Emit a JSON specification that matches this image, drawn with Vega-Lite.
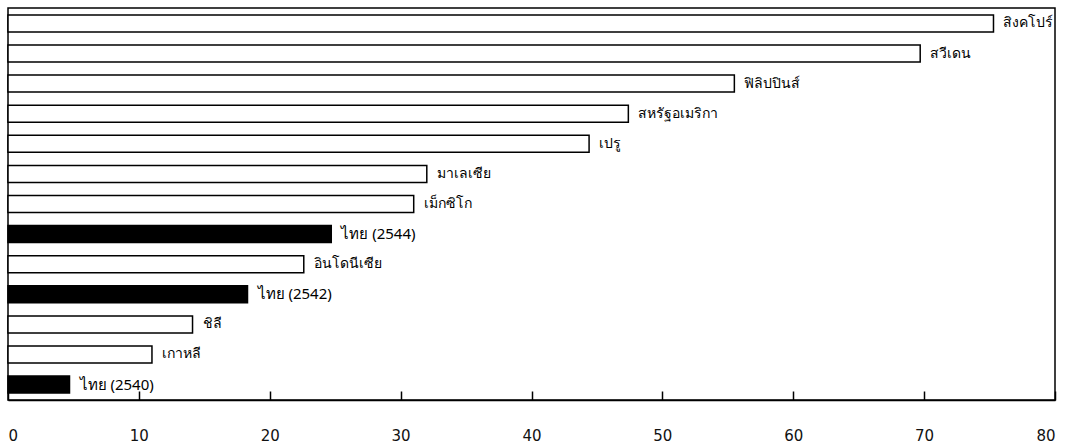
{
  "$schema": "https://vega.github.io/schema/vega-lite/v6.json",
  "autosize": {"type": "none"},
  "width": 1047,
  "height": 392,
  "padding": {"left": 8, "top": 8, "right": 23, "bottom": 43},
  "background": "white",
  "config": {
    "view": {"stroke": "black", "strokeWidth": 1.5},
    "font": "DejaVu Sans"
  },
  "data": {
    "values": [
      {"country": "สิงคโปร์", "value": 75.3, "thai": false},
      {"country": "สวีเดน", "value": 69.7, "thai": false},
      {"country": "ฟิลิปปินส์", "value": 55.5, "thai": false},
      {"country": "สหรัฐอเมริกา", "value": 47.4, "thai": false},
      {"country": "เปรู", "value": 44.4, "thai": false},
      {"country": "มาเลเซีย", "value": 32.0, "thai": false},
      {"country": "เม็กซิโก", "value": 31.0, "thai": false},
      {"country": "ไทย (2544)", "value": 24.7, "thai": true},
      {"country": "อินโดนีเซีย", "value": 22.6, "thai": false},
      {"country": "ไทย (2542)", "value": 18.3, "thai": true},
      {"country": "ชิลี", "value": 14.1, "thai": false},
      {"country": "เกาหลี", "value": 11.0, "thai": false},
      {"country": "ไทย (2540)", "value": 4.7, "thai": true}
    ]
  },
  "encoding": {
    "y": {
      "field": "country",
      "type": "nominal",
      "sort": null,
      "scale": {"paddingInner": 0.435, "paddingOuter": 0.23},
      "axis": null
    },
    "x": {
      "field": "value",
      "type": "quantitative",
      "scale": {"domain": [0, 80], "nice": false},
      "axis": {
        "values": [0, 10, 20, 30, 40, 50, 60, 70, 80],
        "grid": false,
        "domainColor": "black",
        "domainWidth": 1.5,
        "tickColor": "black",
        "tickWidth": 1.5,
        "tickSize": -9,
        "labelPadding": 37,
        "labelFontSize": 15,
        "labelColor": "#111",
        "labelFont": "DejaVu Sans",
        "title": null
      }
    }
  },
  "layer": [
    {
      "mark": {"type": "bar", "stroke": "black", "strokeWidth": 1.5},
      "encoding": {
        "fill": {
          "field": "thai",
          "type": "nominal",
          "scale": {"domain": [false, true], "range": ["white", "black"]},
          "legend": null
        }
      }
    },
    {
      "mark": {"type": "text", "align": "left", "baseline": "middle", "dx": 10, "font": "Noto Sans", "color": "black"},
      "encoding": {
        "text": {"field": "country"},
        "fontWeight": {
          "field": "thai",
          "type": "nominal",
          "scale": {"domain": [false, true], "range": ["normal", "bold"]},
          "legend": null
        },
        "size": {
          "field": "thai",
          "type": "nominal",
          "scale": {"domain": [false, true], "range": [14, 15]},
          "legend": null
        }
      }
    }
  ]
}
